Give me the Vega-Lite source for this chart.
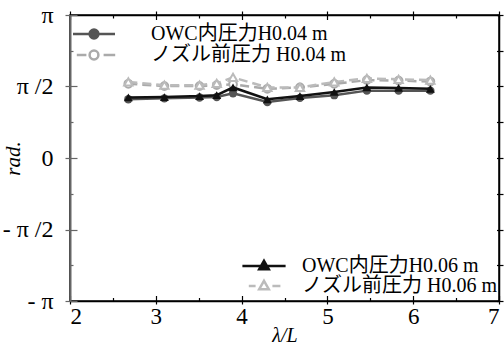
{
  "$schema": "https://vega.github.io/schema/vega-lite/v6.json",
  "width": 429,
  "height": 286,
  "autosize": "none",
  "padding": {"left": 70, "top": 15, "right": 5, "bottom": 43},
  "background": "white",
  "data": {"values": [
    {"lam": 2.68, "s": "OWC内圧力H0.04 m", "v": 1.29},
    {"lam": 3.10, "s": "OWC内圧力H0.04 m", "v": 1.31},
    {"lam": 3.51, "s": "OWC内圧力H0.04 m", "v": 1.33},
    {"lam": 3.71, "s": "OWC内圧力H0.04 m", "v": 1.34},
    {"lam": 3.90, "s": "OWC内圧力H0.04 m", "v": 1.42},
    {"lam": 4.30, "s": "OWC内圧力H0.04 m", "v": 1.23},
    {"lam": 4.68, "s": "OWC内圧力H0.04 m", "v": 1.32},
    {"lam": 5.08, "s": "OWC内圧力H0.04 m", "v": 1.38},
    {"lam": 5.46, "s": "OWC内圧力H0.04 m", "v": 1.48},
    {"lam": 5.83, "s": "OWC内圧力H0.04 m", "v": 1.48},
    {"lam": 6.20, "s": "OWC内圧力H0.04 m", "v": 1.48},
    {"lam": 2.68, "s": "ノズル前圧力 H0.04 m", "v": 1.63},
    {"lam": 3.10, "s": "ノズル前圧力 H0.04 m", "v": 1.58},
    {"lam": 3.51, "s": "ノズル前圧力 H0.04 m", "v": 1.58},
    {"lam": 3.71, "s": "ノズル前圧力 H0.04 m", "v": 1.60},
    {"lam": 3.90, "s": "ノズル前圧力 H0.04 m", "v": 1.62},
    {"lam": 4.30, "s": "ノズル前圧力 H0.04 m", "v": 1.52},
    {"lam": 4.68, "s": "ノズル前圧力 H0.04 m", "v": 1.55},
    {"lam": 5.08, "s": "ノズル前圧力 H0.04 m", "v": 1.63},
    {"lam": 5.46, "s": "ノズル前圧力 H0.04 m", "v": 1.71},
    {"lam": 5.83, "s": "ノズル前圧力 H0.04 m", "v": 1.70},
    {"lam": 6.20, "s": "ノズル前圧力 H0.04 m", "v": 1.68},
    {"lam": 2.68, "s": "OWC内圧力H0.06 m", "v": 1.33},
    {"lam": 3.10, "s": "OWC内圧力H0.06 m", "v": 1.34},
    {"lam": 3.51, "s": "OWC内圧力H0.06 m", "v": 1.36},
    {"lam": 3.71, "s": "OWC内圧力H0.06 m", "v": 1.38},
    {"lam": 3.90, "s": "OWC内圧力H0.06 m", "v": 1.55},
    {"lam": 4.30, "s": "OWC内圧力H0.06 m", "v": 1.29},
    {"lam": 4.68, "s": "OWC内圧力H0.06 m", "v": 1.36},
    {"lam": 5.08, "s": "OWC内圧力H0.06 m", "v": 1.45},
    {"lam": 5.46, "s": "OWC内圧力H0.06 m", "v": 1.55},
    {"lam": 5.83, "s": "OWC内圧力H0.06 m", "v": 1.54},
    {"lam": 6.20, "s": "OWC内圧力H0.06 m", "v": 1.52},
    {"lam": 2.68, "s": "ノズル前圧力 H0.06 m", "v": 1.67},
    {"lam": 3.10, "s": "ノズル前圧力 H0.06 m", "v": 1.60},
    {"lam": 3.51, "s": "ノズル前圧力 H0.06 m", "v": 1.60},
    {"lam": 3.71, "s": "ノズル前圧力 H0.06 m", "v": 1.64},
    {"lam": 3.90, "s": "ノズル前圧力 H0.06 m", "v": 1.77},
    {"lam": 4.30, "s": "ノズル前圧力 H0.06 m", "v": 1.55},
    {"lam": 4.68, "s": "ノズル前圧力 H0.06 m", "v": 1.55},
    {"lam": 5.08, "s": "ノズル前圧力 H0.06 m", "v": 1.67},
    {"lam": 5.46, "s": "ノズル前圧力 H0.06 m", "v": 1.75},
    {"lam": 5.83, "s": "ノズル前圧力 H0.06 m", "v": 1.73},
    {"lam": 6.20, "s": "ノズル前圧力 H0.06 m", "v": 1.71}
  ]},
  "layer": [
    {
      "transform": [{"filter": {"field": "s", "equal": "OWC内圧力H0.04 m"}}],
      "mark": {"type": "line", "color": "#555555", "strokeWidth": 2.5, "point": {"filled": true, "shape": "circle", "size": 70, "color": "#555555"}},
      "encoding": {
        "x": {"field": "lam", "type": "quantitative", "scale": {"domain": [2, 7], "nice": false, "zero": false},
          "axis": {"orient": "bottom", "values": [2, 3, 4, 5, 6, 7], "tickSize": 3, "labels": true, "labelFont": "Liberation Serif", "labelFontSize": 23, "labelColor": "black", "labelPadding": 1, "domain": true, "domainColor": "black", "domainWidth": 1.5,
            "title": "λ/L", "titleFont": "Liberation Serif", "titleFontSize": 20, "titleFontStyle": "italic", "titleFontWeight": "normal", "titleColor": "black", "titleBaseline": "alphabetic", "titleY": 40}},
        "y": {"field": "v", "type": "quantitative", "scale": {"domain": [-3.14159265, 3.14159265], "nice": false, "zero": false},
          "axis": {"orient": "left", "values": [-3.14159265, -1.57079633, 0, 1.57079633, 3.14159265], "tickSize": 5, "tickColor": "#666666", "labels": true,
            "labelExpr": "datum.value > 3 ? 'π' : datum.value > 1 ? 'π /2' : datum.value > -1 ? '0' : datum.value > -3 ? '- π /2' : '- π'",
            "labelFont": "Liberation Serif", "labelFontSize": 24, "labelColor": "black", "labelPadding": 12, "domain": true, "domainColor": "#666666", "domainWidth": 2,
            "title": "rad.", "titleFont": "Liberation Serif", "titleFontSize": 21, "titleFontStyle": "italic", "titleFontWeight": "normal", "titleColor": "black", "titleBaseline": "alphabetic", "titleX": -51}}
      }
    },
    {
      "transform": [{"filter": {"field": "s", "equal": "ノズル前圧力 H0.04 m"}}],
      "mark": {"type": "line", "color": "#aaaaaa", "strokeWidth": 2.5, "strokeDash": [9, 5], "point": {"filled": false, "shape": "circle", "size": 60, "fill": "white", "stroke": "#aaaaaa", "strokeWidth": 2}},
      "encoding": {
        "x": {"field": "lam", "type": "quantitative", "axis": {"orient": "bottom", "values": [2, 3, 4, 5, 6, 7], "tickSize": -5.5, "labels": false, "domain": false, "title": null}},
        "y": {"field": "v", "type": "quantitative", "axis": {"orient": "left", "values": [-3.14159265, -1.57079633, 0, 1.57079633, 3.14159265], "tickSize": -7, "tickColor": "#666666", "labels": false, "domain": false, "title": null}}
      }
    },
    {
      "transform": [{"filter": {"field": "s", "equal": "ノズル前圧力 H0.06 m"}}],
      "mark": {"type": "line", "color": "#bbbbbb", "strokeWidth": 2.5, "strokeDash": [9, 5], "point": {"filled": false, "shape": "triangle-up", "size": 70, "fill": "white", "stroke": "#bbbbbb", "strokeWidth": 2}},
      "encoding": {
        "x": {"field": "lam", "type": "quantitative", "axis": {"orient": "bottom", "values": [2.5, 3.5, 4.5, 5.5, 6.5], "tickSize": -3.5, "labels": false, "domain": false, "title": null}},
        "y": {"field": "v", "type": "quantitative", "axis": {"orient": "left", "values": [-2.35619449, -0.78539816, 0.78539816, 2.35619449], "tickSize": -3, "tickColor": "#666666", "labels": false, "domain": false, "title": null}}
      }
    },
    {
      "transform": [{"filter": {"field": "s", "equal": "OWC内圧力H0.06 m"}}],
      "mark": {"type": "line", "color": "#111111", "strokeWidth": 2.5, "point": {"filled": true, "shape": "triangle-up", "size": 80, "color": "#111111"}},
      "encoding": {
        "x": {"field": "lam", "type": "quantitative", "axis": {"orient": "top", "values": [2, 3, 4, 5, 6, 7], "tickSize": 4, "labels": false, "domain": true, "domainColor": "black", "domainWidth": 1.5, "title": null}},
        "y": {"field": "v", "type": "quantitative", "axis": {"orient": "right", "values": [-3.14159265, -2.35619449, -1.57079633, -0.78539816, 0, 0.78539816, 1.57079633, 2.35619449, 3.14159265], "tickSize": -2.5, "labels": false, "domain": true, "domainColor": "black", "domainWidth": 1.5, "title": null}}
      }
    },
    {
      "transform": [{"filter": {"and": [{"field": "lam", "equal": 2.68}, {"field": "s", "oneOf": ["OWC内圧力H0.04 m", "ノズル前圧力 H0.04 m"]}]}}],
      "mark": {"type": "point", "opacity": 0, "strokeWidth": 2.5},
      "encoding": {
        "x": {"field": "lam", "type": "quantitative", "axis": {"orient": "top", "values": [2, 3, 4, 5, 6, 7], "tickSize": -4.5, "labels": false, "domain": false, "title": null}},
        "y": {"field": "v", "type": "quantitative", "axis": {"orient": "right", "values": [-3.14159265, -2.35619449, -1.57079633, -0.78539816, 0, 0.78539816, 1.57079633, 2.35619449, 3.14159265], "tickSize": 4, "labels": false, "domain": false, "title": null}},
        "shape": {"field": "s", "type": "nominal",
          "scale": {"domain": ["OWC内圧力H0.04 m", "ノズル前圧力 H0.04 m"], "range": ["M-5.25,0H5.25M-1.1,0A1.1,1.1 0 1,0 1.1,0A1.1,1.1 0 1,0 -1.1,0Z", "M-4.3,0H-1.9M2.4,0H5.3M-1.1,0A1.1,1.1 0 1,0 1.1,0A1.1,1.1 0 1,0 -1.1,0Z"]},
          "legend": {"title": null, "orient": "none", "legendX": 14, "legendY": 9, "padding": 0, "symbolSize": 64, "symbolStrokeWidth": 2.5, "symbolOpacity": 1, "symbolOffset": 0, "labelOffset": 47, "labelFont": "Liberation Serif, Noto Sans CJK JP", "labelFontSize": 20, "labelColor": "black", "rowPadding": 1, "labelLimit": 0}},
        "stroke": {"field": "s", "type": "nominal",
          "scale": {"domain": ["OWC内圧力H0.04 m", "ノズル前圧力 H0.04 m"], "range": ["#555555", "#aaaaaa"]},
          "legend": {"title": null, "orient": "none", "legendX": 14, "legendY": 9, "padding": 0, "symbolSize": 64, "symbolStrokeWidth": 2.5, "symbolOpacity": 1, "symbolOffset": 0, "labelOffset": 47, "labelFont": "Liberation Serif, Noto Sans CJK JP", "labelFontSize": 20, "labelColor": "black", "rowPadding": 1, "labelLimit": 0}},
        "fill": {"field": "s", "type": "nominal",
          "scale": {"domain": ["OWC内圧力H0.04 m", "ノズル前圧力 H0.04 m"], "range": ["#555555", "#ffffff"]},
          "legend": {"title": null, "orient": "none", "legendX": 14, "legendY": 9, "padding": 0, "symbolSize": 64, "symbolStrokeWidth": 2.5, "symbolOpacity": 1, "symbolOffset": 0, "labelOffset": 47, "labelFont": "Liberation Serif, Noto Sans CJK JP", "labelFontSize": 20, "labelColor": "black", "rowPadding": 1, "labelLimit": 0}}
      }
    },
    {
      "transform": [{"filter": {"and": [{"field": "lam", "equal": 2.68}, {"field": "s", "oneOf": ["OWC内圧力H0.06 m", "ノズル前圧力 H0.06 m"]}]}}],
      "mark": {"type": "point", "opacity": 0, "strokeWidth": 2.5},
      "encoding": {
        "x": {"field": "lam", "type": "quantitative", "axis": {"orient": "top", "values": [2.5, 3.5, 4.5, 5.5, 6.5], "tickSize": -3, "labels": false, "domain": false, "title": null}},
        "y": {"field": "v", "type": "quantitative", "axis": null},
        "shape": {"field": "s", "type": "nominal",
          "scale": {"domain": ["OWC内圧力H0.06 m", "ノズル前圧力 H0.06 m"], "range": ["M-5.4,0H5.4M0,-1.3L1.2,0.8L-1.2,0.8Z", "M-3.8,0H-2.1M2.1,0H4.1M0,-1.3L1.2,0.8L-1.2,0.8Z"]},
          "legend": {"title": null, "orient": "none", "legendX": 184, "legendY": 241, "padding": 0, "symbolSize": 64, "symbolStrokeWidth": 2.5, "symbolOpacity": 1, "symbolOffset": 0, "labelOffset": 28, "labelFont": "Liberation Serif, Noto Sans CJK JP", "labelFontSize": 20, "labelColor": "black", "rowPadding": -2, "labelLimit": 0}},
        "stroke": {"field": "s", "type": "nominal",
          "scale": {"domain": ["OWC内圧力H0.06 m", "ノズル前圧力 H0.06 m"], "range": ["#111111", "#bbbbbb"]},
          "legend": {"title": null, "orient": "none", "legendX": 184, "legendY": 241, "padding": 0, "symbolSize": 64, "symbolStrokeWidth": 2.5, "symbolOpacity": 1, "symbolOffset": 0, "labelOffset": 28, "labelFont": "Liberation Serif, Noto Sans CJK JP", "labelFontSize": 20, "labelColor": "black", "rowPadding": -2, "labelLimit": 0}},
        "fill": {"field": "s", "type": "nominal",
          "scale": {"domain": ["OWC内圧力H0.06 m", "ノズル前圧力 H0.06 m"], "range": ["#111111", "#ffffff"]},
          "legend": {"title": null, "orient": "none", "legendX": 184, "legendY": 241, "padding": 0, "symbolSize": 64, "symbolStrokeWidth": 2.5, "symbolOpacity": 1, "symbolOffset": 0, "labelOffset": 28, "labelFont": "Liberation Serif, Noto Sans CJK JP", "labelFontSize": 20, "labelColor": "black", "rowPadding": -2, "labelLimit": 0}}
      }
    }
  ],
  "resolve": {
    "axis": {"x": "independent", "y": "independent"},
    "scale": {"shape": "independent", "stroke": "independent", "fill": "independent"},
    "legend": {"shape": "independent", "stroke": "independent", "fill": "independent"}
  },
  "config": {
    "font": "Liberation Serif",
    "view": {"stroke": "black", "strokeWidth": 1.5},
    "axis": {"grid": false, "domain": false, "labels": false, "tickColor": "black", "tickWidth": 1.2}
  }
}
